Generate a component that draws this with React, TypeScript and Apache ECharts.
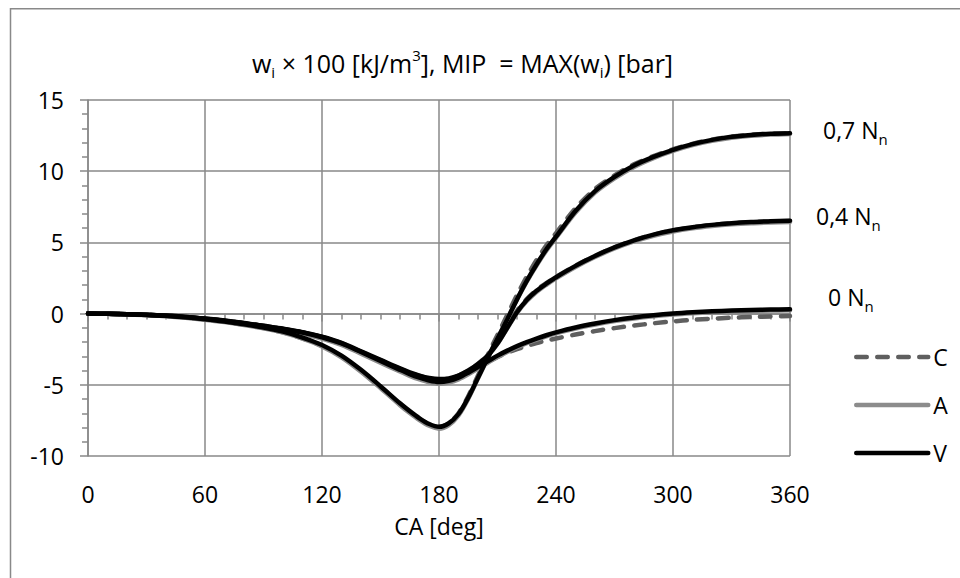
import React, { useEffect, useRef } from 'react';
import * as echarts from 'echarts';

const DEG = [0, 10, 20, 30, 40, 50, 60, 70, 80, 90, 100, 110, 120, 130, 140, 150,
  160, 165, 170, 175, 180, 185, 190, 195, 200, 205, 210, 215, 220, 225, 230, 235, 240,
  250, 260, 270, 280, 290, 300, 310, 320, 330, 340, 350, 360];

const C07 = [0, -0.01, -0.04, -0.09, -0.16, -0.27, -0.41, -0.58, -0.78, -1.02, -1.32, -1.74, -2.27, -3.02, -4.02, -5.17,
  -6.36, -6.90, -7.40, -7.78, -7.97, -7.70, -7.00, -5.80, -4.35, -2.90, -1.50, -0.10, 1.30, 2.60, 3.75, 4.78, 5.65,
  7.40, 8.75, 9.70, 10.48, 11.06, 11.54, 11.92, 12.22, 12.43, 12.56, 12.63, 12.67];
const A07 = [0, -0.01, -0.05, -0.10, -0.18, -0.29, -0.43, -0.60, -0.80, -1.04, -1.34, -1.76, -2.30, -3.07, -4.08, -5.23,
  -6.43, -6.98, -7.48, -7.88, -8.08, -7.83, -7.15, -5.98, -4.55, -3.12, -1.75, -0.38, 1.00, 2.25, 3.38, 4.42, 5.32,
  7.10, 8.50, 9.50, 10.30, 10.92, 11.42, 11.83, 12.13, 12.35, 12.49, 12.57, 12.62];
const V07 = [0, -0.01, -0.04, -0.09, -0.16, -0.26, -0.40, -0.56, -0.75, -0.98, -1.27, -1.68, -2.20, -2.95, -3.95, -5.10,
  -6.30, -6.85, -7.35, -7.75, -7.95, -7.70, -7.05, -5.90, -4.50, -3.10, -1.75, -0.40, 1.00, 2.30, 3.45, 4.50, 5.40,
  7.20, 8.60, 9.60, 10.40, 11.00, 11.50, 11.90, 12.20, 12.42, 12.55, 12.63, 12.67];

const C04 = [0, -0.01, -0.04, -0.08, -0.15, -0.24, -0.36, -0.50, -0.67, -0.87, -1.08, -1.32, -1.64, -2.08, -2.68, -3.28,
  -3.88, -4.15, -4.38, -4.55, -4.63, -4.57, -4.36, -4.00, -3.53, -2.90, -2.02, -0.90, 0.20, 1.02, 1.65, 2.14, 2.58,
  3.37, 4.06, 4.65, 5.15, 5.54, 5.84, 6.06, 6.22, 6.34, 6.42, 6.47, 6.50];
const A04 = [0, -0.01, -0.05, -0.09, -0.16, -0.25, -0.38, -0.53, -0.71, -0.92, -1.13, -1.38, -1.71, -2.15, -2.76, -3.37,
  -3.97, -4.24, -4.47, -4.64, -4.72, -4.66, -4.45, -4.08, -3.60, -2.98, -2.12, -1.03, 0.05, 0.88, 1.52, 2.02, 2.47,
  3.27, 3.97, 4.57, 5.07, 5.47, 5.77, 5.99, 6.15, 6.27, 6.35, 6.40, 6.44];
const V04 = [0, -0.01, -0.04, -0.08, -0.14, -0.23, -0.35, -0.49, -0.66, -0.86, -1.06, -1.30, -1.62, -2.05, -2.65, -3.25,
  -3.85, -4.12, -4.35, -4.52, -4.60, -4.55, -4.35, -4.00, -3.55, -2.95, -2.10, -1.00, 0.10, 0.95, 1.60, 2.10, 2.55,
  3.35, 4.05, 4.65, 5.15, 5.55, 5.85, 6.07, 6.23, 6.35, 6.43, 6.48, 6.52];

const C0 = [0, -0.01, -0.04, -0.08, -0.16, -0.25, -0.37, -0.51, -0.69, -0.89, -1.10, -1.35, -1.68, -2.13, -2.74, -3.36,
  -3.99, -4.29, -4.55, -4.74, -4.84, -4.76, -4.55, -4.22, -3.82, -3.42, -3.05, -2.75, -2.50, -2.27, -2.07, -1.90, -1.75,
  -1.47, -1.23, -1.02, -0.84, -0.68, -0.55, -0.44, -0.36, -0.29, -0.24, -0.20, -0.17];
const A0 = [0, -0.01, -0.05, -0.09, -0.17, -0.27, -0.39, -0.54, -0.72, -0.93, -1.15, -1.41, -1.75, -2.20, -2.81, -3.44,
  -4.07, -4.37, -4.62, -4.82, -4.92, -4.84, -4.62, -4.27, -3.86, -3.45, -3.05, -2.69, -2.36, -2.07, -1.82, -1.59, -1.39,
  -1.05, -0.77, -0.53, -0.34, -0.19, -0.07, 0.02, 0.09, 0.14, 0.18, 0.21, 0.23];
const V0 = [0, -0.01, -0.04, -0.08, -0.15, -0.24, -0.36, -0.50, -0.67, -0.87, -1.08, -1.33, -1.66, -2.10, -2.70, -3.32,
  -3.95, -4.25, -4.50, -4.70, -4.80, -4.72, -4.50, -4.15, -3.75, -3.35, -2.95, -2.60, -2.28, -2.00, -1.75, -1.52, -1.32,
  -0.98, -0.70, -0.46, -0.27, -0.12, 0.00, 0.09, 0.16, 0.21, 0.25, 0.28, 0.30];

const LOAD_LABELS = ['0,7 N', '0,4 N', '0 N'];
const LEGEND_NAMES = ['C', 'A', 'V'];

const FONT = '"Open Sans", sans-serif';
const GRAY = '#888888';

export default function App() {
  const ref = useRef<HTMLDivElement>(null);
  useEffect(() => {
    const chart = echarts.init(ref.current!, null, { renderer: 'svg' });
    const pairs = (ys: number[]) => DEG.map((d, i) => [d, ys[i]]);
    const styles: Record<string, any> = {
      C: { color: '#5f5f5f', width: 4.5, type: [10.5, 10.5], cap: 'round' },
      A: { color: '#8c8c8c', width: 4.5, cap: 'round' },
      V: { color: '#000000', width: 4.5, cap: 'round' },
    };
    const groups: Record<string, number[][]> = {
      C: [C07, C04, C0],
      A: [A07, A04, A0],
      V: [V07, V04, V0],
    };
    const labelOffsets = [[33, -3], [26, -5], [38, -12]];
    const series: any[] = [];
    LEGEND_NAMES.forEach((name) => {
      groups[name].forEach((ys, k) => {
        const s: any = {
          type: 'line',
          name,
          data: pairs(ys),
          symbol: 'none',
          smooth: 0.3,
          lineStyle: styles[name],
          itemStyle: { color: styles[name].color },
          z: name === 'V' ? 4 : name === 'A' ? 3 : 2,
        };
        if (name === 'V') {
          s.endLabel = {
            show: true,
            distance: 0,
            offset: labelOffsets[k],
            formatter: '{a|' + LOAD_LABELS[k] + '}{b|n}',
            rich: {
              a: { fontFamily: FONT, fontSize: 23, color: '#000' },
              b: { fontFamily: FONT, fontSize: 15, color: '#000', padding: [18, 0, 0, 0] },
            },
          };
        }
        series.push(s);
      });
    });

    const tok = { fontFamily: FONT, color: '#000', fontWeight: 'normal' as const };
    chart.setOption({
      animation: false,
      backgroundColor: '#ffffff',
      title: {
        left: 247,
        top: 41,
        text: '{t|w}{s|i}{t| × 100 [kJ/m}{p|3}{t|], MIP  = MAX(w}{s|i}{t|) [bar]}',
        textStyle: {
          fontWeight: 'normal',
          rich: {
            t: { ...tok, fontSize: 25 },
            s: { ...tok, fontSize: 15, padding: [18, 0, 0, 0] },
            p: { ...tok, fontSize: 15, padding: [0, 0, 16, 0] },
          },
        },
      },
      legend: {
        orient: 'vertical',
        left: 849,
        top: 340,
        itemWidth: 72,
        itemHeight: 24,
        itemGap: 24,
        selectedMode: false,
        data: LEGEND_NAMES.map((n) => ({
          name: n,
          itemStyle: { opacity: 0 },
          lineStyle: { ...styles[n] },
        })),
        textStyle: { fontFamily: FONT, fontSize: 23, color: '#000', lineHeight: 24 },
      },
      grid: { left: 88, top: 100, width: 702, height: 356, containLabel: false },
      xAxis: {
        type: 'value',
        min: 0,
        max: 360,
        interval: 60,
        name: 'CA [deg]',
        nameLocation: 'middle',
        nameGap: 58,
        nameTextStyle: { fontFamily: FONT, fontSize: 23, color: '#000' },
        axisLine: { show: true, lineStyle: { color: GRAY, width: 1.5 } },
        axisTick: { show: true, length: 8, lineStyle: { color: GRAY, width: 1.5 } },
        minorTick: { show: true, splitNumber: 6, length: 6, lineStyle: { color: GRAY, width: 1.5 } },
        splitLine: { show: true, lineStyle: { color: GRAY, width: 1.5 } },
        axisLabel: { fontFamily: FONT, fontSize: 23, color: '#000', margin: 26 },
      },
      yAxis: {
        type: 'value',
        min: -10,
        max: 15,
        interval: 5,
        axisLine: { show: true, lineStyle: { color: GRAY, width: 1.5 } },
        axisTick: { show: true, length: 8, lineStyle: { color: GRAY, width: 1.5 } },
        minorTick: { show: true, splitNumber: 5, length: 6, lineStyle: { color: GRAY, width: 1.5 } },
        splitLine: { show: true, lineStyle: { color: GRAY, width: 1.5 } },
        axisLabel: { fontFamily: FONT, fontSize: 23, color: '#000', margin: 24 },
      },
      graphic: [
        {
          type: 'rect',
          silent: true,
          shape: { x: 10.5, y: 8.75, width: 1000, height: 1000 },
          style: { fill: 'none', stroke: '#898989', lineWidth: 1.5 },
        },
      ],
      series,
    });
    return () => chart.dispose();
  }, []);
  return <div ref={ref} style={{ position: 'fixed', left: 0, top: 0, width: 960, height: 578 }} />;
}
